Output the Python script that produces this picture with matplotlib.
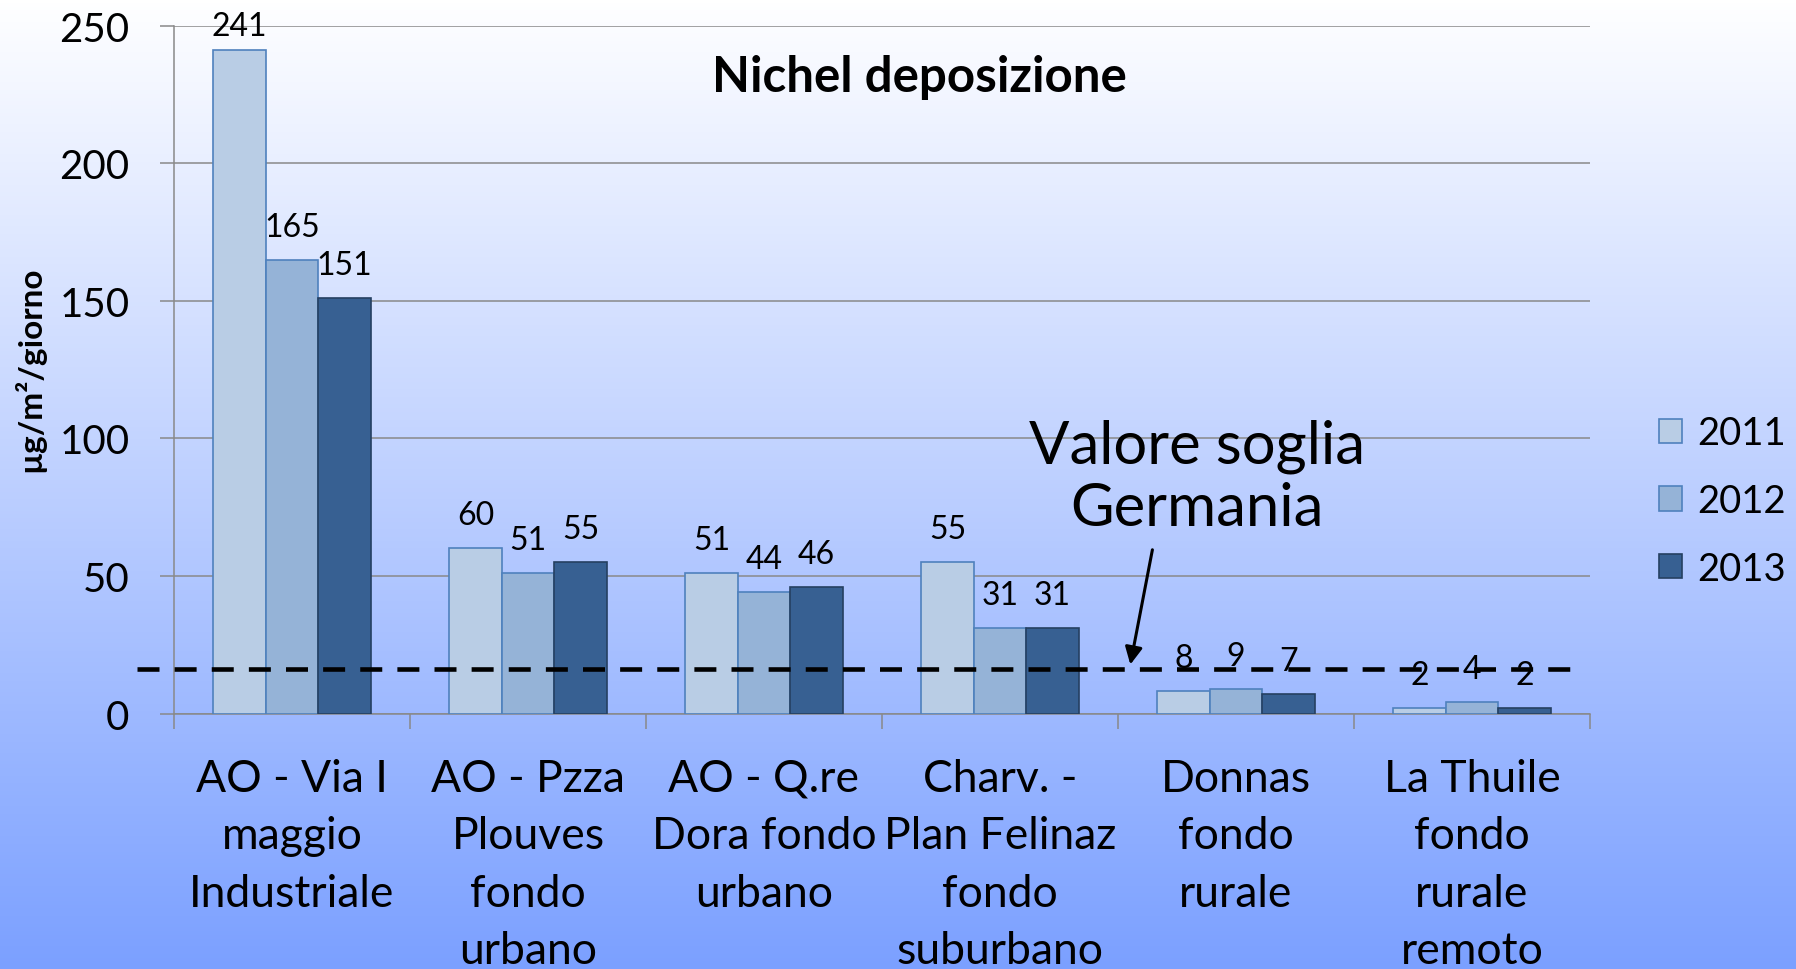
import numpy as np
import matplotlib
matplotlib.use("Agg")
import matplotlib.pyplot as plt

plt.rcParams['font.family'] = ['Lato', 'DejaVu Sans']

categories = ["AO - Via I\nmaggio\nIndustriale",
              "AO - Pzza\nPlouves\nfondo\nurbano",
              "AO - Q.re\nDora fondo\nurbano",
              "Charv. -\nPlan Felinaz\nfondo\nsuburbano",
              "Donnas\nfondo\nrurale",
              "La Thuile\nfondo\nrurale\nremoto"]
years = ["2011", "2012", "2013"]
v2011 = [241, 60, 51, 55, 8, 2]
v2012 = [165, 51, 44, 31, 9, 4]
v2013 = [151, 55, 46, 31, 7, 2]
threshold = 16
yticks = [0, 50, 100, 150, 200, 250]
title = "Nichel deposizione"
ylabel = "µg/m²/giorno"
annot_text = "Valore soglia\nGermania"

face = ["#B9CDE5", "#95B3D7", "#376092"]
edge = ["#4F81BD", "#4F81BD", "#254061"]

W, H = 1796, 970
fig = plt.figure(figsize=(W/100, H/100), dpi=100)

# gradient background
bg = fig.add_axes([0, 0, 1, 1], zorder=-10)
grad = np.linspace(0, 1, 256)[:, None]
top = np.array([1.0, 1.0, 1.0])
bot = np.array([0x7B, 0xA0, 0xFF]) / 255
img = top[None, None, :] * (1 - grad[:, :, None]) + bot[None, None, :] * grad[:, :, None]
bg.imshow(img, aspect='auto', extent=[0, 1, 0, 1], origin='upper')
bg.set_axis_off()

ax = fig.add_axes([174/W, 1 - 714.5/H, (1590-174)/W, (714.5-26.7)/H])
ax.set_facecolor('none')

n = len(categories)
x = np.arange(n) + 0.5
bw = 1/4.5
series = [v2011, v2012, v2013]
for i, (vals, yr) in enumerate(zip(series, years)):
    xs = x + (i - 1) * bw
    ax.bar(xs, vals, width=bw, color=face[i], edgecolor=edge[i],
           linewidth=1.2, label=yr, zorder=3)
    for xx, v in zip(xs, vals):
        ax.text(xx, min(v + 12, 250), str(v), ha='center', va='center',
                fontsize=23, zorder=5)

ax.set_xlim(0, n)
ax.set_ylim(0, 250)
ax.set_yticks(yticks)
ax.set_yticklabels([str(t) for t in yticks], fontsize=29)
ax.tick_params(axis='y', length=10, width=1.1, color='#898989', pad=22)
ax.grid(axis='y', color='#898989', linewidth=1.1, zorder=0)
ax.set_axisbelow(True)

ax.set_xticks(np.arange(n + 1))
ax.set_xticklabels([])
ax.tick_params(axis='x', which='major', length=11, width=1.1, color='#898989')
ax.set_xticks(x, minor=True)
ax.set_xticklabels(categories, minor=True, fontsize=32, linespacing=1.5)
ax.tick_params(axis='x', which='minor', length=0, pad=32)
for lab in ax.get_xticklabels(minor=True):
    lab.set_verticalalignment('top')

for s in ['top', 'right']:
    ax.spines[s].set_visible(False)
for s in ['left', 'bottom']:
    ax.spines[s].set_color('#898989')
    ax.spines[s].set_linewidth(1.1)

# threshold dashed line
ax.hlines(threshold, -0.157, 5.94, colors='black', linewidth=3.3,
          linestyles=(0, (4.8, 3.3)), clip_on=False, zorder=6)

# annotation
ax.annotate('', xy=(4.05, 16.8), xytext=(4.148, 60.5),
            arrowprops=dict(arrowstyle='-|>', color='black', lw=2.2,
                            mutation_scale=26), zorder=7)
ax.text(4.335, 86, annot_text, ha='center', va='center', fontsize=43,
        linespacing=1.18, zorder=7)

ax.text(3.157, 231.7, title, ha='center', va='center', fontsize=35.5,
        fontweight='bold', zorder=7)

fig.text(29/W, 1 - 369/H, ylabel, rotation=90, ha='center', va='center',
         fontsize=24, fontweight='bold')

leg = ax.legend(loc='center left', bbox_to_anchor=(1659/W, 1 - 502/H),
                bbox_transform=fig.transFigure, frameon=False, fontsize=27.5,
                handlelength=0.6, handleheight=0.6, handletextpad=0.4,
                labelspacing=0.83, borderpad=0, borderaxespad=0)

fig.savefig("out.png", dpi=100)
